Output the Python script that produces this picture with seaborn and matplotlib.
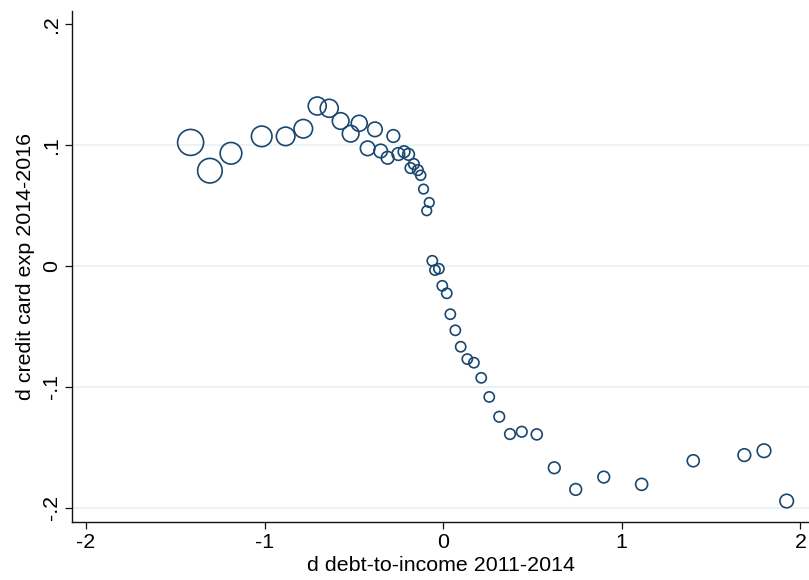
"""
Binned scatter: change in credit card expenditure vs change in debt-to-income
(hollow markers, area proportional to bin weight)
"""
import numpy as np
import pandas as pd
import matplotlib
matplotlib.use("Agg")
import matplotlib.pyplot as plt
import seaborn as sns

# values
d_dti = [-1.414, -1.306, -1.188, -1.016, -0.882, -0.783, -0.705, -0.638, -0.574, -0.518,
         -0.470, -0.423, -0.382, -0.350, -0.311, -0.279, -0.251, -0.219, -0.194, -0.164,
         -0.183, -0.142, -0.126, -0.110, -0.078, -0.092, -0.061, -0.046, -0.024, -0.005,
         0.020, 0.040, 0.068, 0.098, 0.135, 0.172, 0.213, 0.258, 0.314, 0.374,
         0.440, 0.524, 0.622, 0.742, 0.899, 1.111, 1.400, 1.686, 1.796, 1.923]
d_cc = [0.1021, 0.0787, 0.0931, 0.1071, 0.1071, 0.1134, 0.1322, 0.1303, 0.1198, 0.1093,
        0.1179, 0.0972, 0.1129, 0.0950, 0.0894, 0.1074, 0.0925, 0.0944, 0.0922, 0.0842,
        0.0809, 0.0792, 0.0749, 0.0635, 0.0524, 0.0456, 0.0042, -0.0035, -0.0024, -0.0165,
        -0.0227, -0.0400, -0.0533, -0.0669, -0.0771, -0.0801, -0.0926, -0.1084, -0.1248, -0.1391,
        -0.1372, -0.1394, -0.1670, -0.1849, -0.1747, -0.1807, -0.1612, -0.1565, -0.1529, -0.1945]
weight = [169, 151, 117, 106, 86, 86, 81, 81, 69, 69,
          64, 53, 53, 46, 40, 40, 40, 34, 34, 28,
          28, 28, 25, 23, 23, 23, 26, 26, 26, 26,
          26, 26, 26, 26, 26, 26, 26, 26, 28, 28,
          28, 30, 34, 34, 34, 36, 36, 40, 46, 46]

xticks = [-2, -1, 0, 1, 2]
yticks = [-0.2, -0.1, 0, 0.1, 0.2]
yticklabels = ["-.2", "-.1", "0", ".1", ".2"]

df = pd.DataFrame({"x": d_dti, "y": d_cc, "w": weight})

sns.set_style("white")
plt.rcParams["font.family"] = ["Liberation Sans", "DejaVu Sans"]

navy = "#1a476f"
fig = plt.figure(figsize=(8.09, 5.80), dpi=100)
ax = fig.add_axes([0.089, 0.1005, 0.911, 0.881])

wmax = max(weight)
sns.scatterplot(data=df, x="x", y="y", size="w", sizes=(0, wmax * 2.07),
                size_norm=(0, wmax), facecolor="none", edgecolor=navy,
                linewidth=1.2, legend=False, ax=ax, zorder=3)

ax.set_xlim(-2.078, 2.048)
ax.set_ylim(-0.2116, 0.211)
ax.set_xticks(xticks)
ax.set_xticklabels([str(t) for t in xticks])
ax.set_yticks(yticks)
ax.set_yticklabels(yticklabels, rotation=90, va="center")

ax.yaxis.grid(True, color="#eaf2f3", linewidth=1.3)
ax.yaxis.get_gridlines()[-1].set_visible(False)
ax.xaxis.grid(False)

for side in ["top", "right"]:
    ax.spines[side].set_visible(False)
for side in ["left", "bottom"]:
    ax.spines[side].set_color("#111111")
    ax.spines[side].set_linewidth(1.0)

ax.tick_params(axis="both", direction="out", length=5, width=0.9, color="#111111",
               labelsize=15.4, pad=3, left=True, bottom=True, labelcolor="black")

ax.set_xlabel("d debt-to-income 2011-2014", fontsize=15.4, labelpad=3, color="black")
ax.set_ylabel("d credit card exp 2014-2016", fontsize=15.4, labelpad=5, color="black")

plt.savefig("out.png", dpi=100)
